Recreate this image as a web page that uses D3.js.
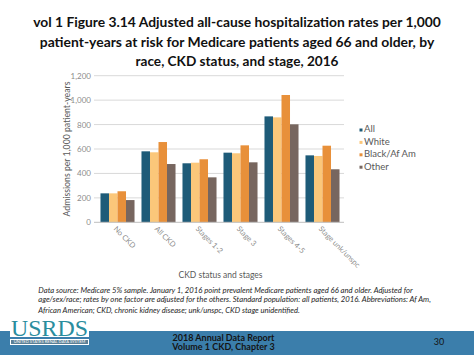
<!DOCTYPE html>
<html><head><meta charset="utf-8">
<script src="https://cdn.jsdelivr.net/npm/d3@7"></script>
<style>body{margin:0;background:#fff}svg{display:block}</style>
</head><body>
<svg id="c" width="474" height="355"></svg>
<script>
const categories = ["No CKD","All CKD","Stages 1-2","Stage 3","Stages 4-5","Stage unk/unspc"];
const seriesNames = ["All","White","Black/Af Am","Other"];
const allVals   = [237, 581, 483, 570, 867, 548];
const whiteVals = [237, 573, 488, 565, 859, 543];
const blackVals = [254, 657, 516, 630, 1042, 627];
const otherVals = [182, 477, 368, 491, 802, 434];
const yTicks = [0,200,400,600,800,1000,1200];
const colors = ["#1e5b78","#fbc77a","#e8903a","#77665f"];
const seriesVals = [allVals, whiteVals, blackVals, otherVals];

const svg = d3.select("#c");
const font = "Lato, 'Open Sans', sans-serif";

function fit(t, w){ let fs=parseFloat(t.attr("font-size")); const L=t.node().getComputedTextLength(); t.attr("font-size", fs*w/L); }

// title
const titleLines = [
 ["vol 1 Figure 3.14 Adjusted all-cause hospitalization rates per 1,000", 23, 408],
 ["patient-years at risk for Medicare patients aged 66 and older, by", 43.5, 395],
 ["race, CKD status, and stage, 2016", 63, 203]];
titleLines.forEach(([s,y,w])=>{
  const t=svg.append("text").attr("x",237).attr("y",y).attr("text-anchor","middle").attr("dominant-baseline","middle")
   .attr("font-family",font).attr("font-weight","bold").attr("font-size",15).attr("fill","#111").text(s);
  fit(t,w);
});

const x0=97, x1=343, yTop=75.7, yBot=222.3;
const x = d3.scaleBand().domain(categories).range([x0,x1]).paddingInner(0.17).paddingOuter(0.085);
const xs = d3.scaleBand().domain(seriesNames).range([0,x.bandwidth()]);
const y = d3.scaleLinear().domain([0,1200]).range([yBot,yTop]);

// gridlines
svg.append("g").selectAll("line").data(yTicks.filter(d=>d>0)).join("line")
  .attr("x1",94).attr("x2",344).attr("y1",d=>y(d)).attr("y2",d=>y(d)).attr("stroke","#d9d9d9").attr("stroke-width",1);

// y axis labels
const ya = svg.append("g").attr("transform",`translate(94,0)`).call(d3.axisLeft(y).tickValues(yTicks).tickSize(0).tickPadding(3).tickFormat(d3.format(",")));
ya.select(".domain").remove();
ya.selectAll("text").attr("font-family",font).attr("font-size",8).attr("fill","#8c8c8c");

// bars
const g = svg.append("g");
categories.forEach((c,i)=>{
  seriesNames.forEach((s,j)=>{
    g.append("rect").attr("x",x(c)+xs(s)).attr("width",xs.bandwidth())
     .attr("y",y(seriesVals[j][i])).attr("height",yBot-y(seriesVals[j][i])).attr("fill",colors[j]);
  });
});

// x axis baseline
svg.append("line").attr("x1",94).attr("x2",344).attr("y1",yBot).attr("y2",yBot).attr("stroke","#bfbfbf");

// x labels
categories.forEach(c=>{
  const cx = x(c)+x.bandwidth()/2 - 3;
  svg.append("text").attr("transform",`translate(${cx},228) rotate(45)`).attr("text-anchor","start")
    .attr("dominant-baseline","middle").attr("font-family",font).attr("font-size",7.5).attr("fill","#8c8c8c").text(c);
});

// axis titles
const yt = svg.append("text").attr("transform","translate(68,149) rotate(-90)").attr("text-anchor","middle")
  .attr("dominant-baseline","middle").attr("font-family",font).attr("font-size",10).attr("fill","#595959").text("Admissions per 1,000 patient-years");
fit(yt,135);
const xt = svg.append("text").attr("x",220.5).attr("y",275.5).attr("text-anchor","middle").attr("dominant-baseline","middle")
  .attr("font-family",font).attr("font-size",10).attr("fill","#595959").text("CKD status and stages");
fit(xt,84);

// legend
seriesNames.forEach((s,j)=>{
  const ly = 130 + j*12.4;
  svg.append("rect").attr("x",359.5).attr("y",ly-1.5).attr("width",3).attr("height",3).attr("fill",colors[j]);
  svg.append("text").attr("x",364).attr("y",ly).attr("dominant-baseline","middle").attr("font-family",font)
    .attr("font-size",9.5).attr("fill","#595959").text(s);
});

// footnote
const notes = [
 ["Data source: Medicare 5% sample. January 1, 2016 point prevalent Medicare patients aged 66 and older. Adjusted for", 290.7, 375],
 ["age/sex/race; rates by one factor are adjusted for the others. Standard population: all patients, 2016. Abbreviations: Af Am,", 300.5, 393],
 ["African American; CKD, chronic kidney disease; unk/unspc, CKD stage unidentified.", 310.8, 262]];
notes.forEach(([s,yy,w])=>{
  const t=svg.append("text").attr("x",38.3).attr("y",yy).attr("dominant-baseline","middle").attr("font-family",font)
    .attr("font-style","italic").attr("font-size",8.5).attr("fill","#262626").text(s);
  fit(t,w);
});

// bottom band
svg.append("rect").attr("x",0).attr("y",331).attr("width",474).attr("height",24).attr("fill","#3b7eab");
svg.append("text").attr("x",223.5).attr("y",338.5).attr("text-anchor","middle").attr("dominant-baseline","middle")
  .attr("font-family",font).attr("font-weight","bold").attr("font-size",9).attr("fill","#141414").text("2018 Annual Data Report");
svg.append("text").attr("x",223.5).attr("y",348).attr("text-anchor","middle").attr("dominant-baseline","middle")
  .attr("font-family",font).attr("font-weight","bold").attr("font-size",9).attr("fill","#141414").text("Volume 1 CKD, Chapter 3");
svg.append("text").attr("x",439).attr("y",343).attr("text-anchor","middle").attr("dominant-baseline","middle")
  .attr("font-family",font).attr("font-size",9).attr("fill","#141414").text("30");

// logo
svg.append("rect").attr("x",10).attr("y",317).attr("width",79).attr("height",20).attr("fill","#fff");
const lg = svg.append("text").attr("x",11).attr("y",335.5).attr("font-family","'Liberation Serif', serif").attr("font-size",23)
  .attr("fill","#2a8d9e").text("USRDS");
fit(lg,77);
svg.append("rect").attr("x",10.5).attr("y",339.5).attr("width",78).attr("height",5).attr("fill","#5b7f95").attr("stroke","#fff").attr("stroke-width",1);
const lt = svg.append("text").attr("x",49.5).attr("y",342.3).attr("text-anchor","middle").attr("dominant-baseline","middle")
  .attr("font-family",font).attr("font-size",3).attr("fill","#fff").text("UNITED STATES RENAL DATA SYSTEM");
fit(lt,72);
</script>
</body></html>
